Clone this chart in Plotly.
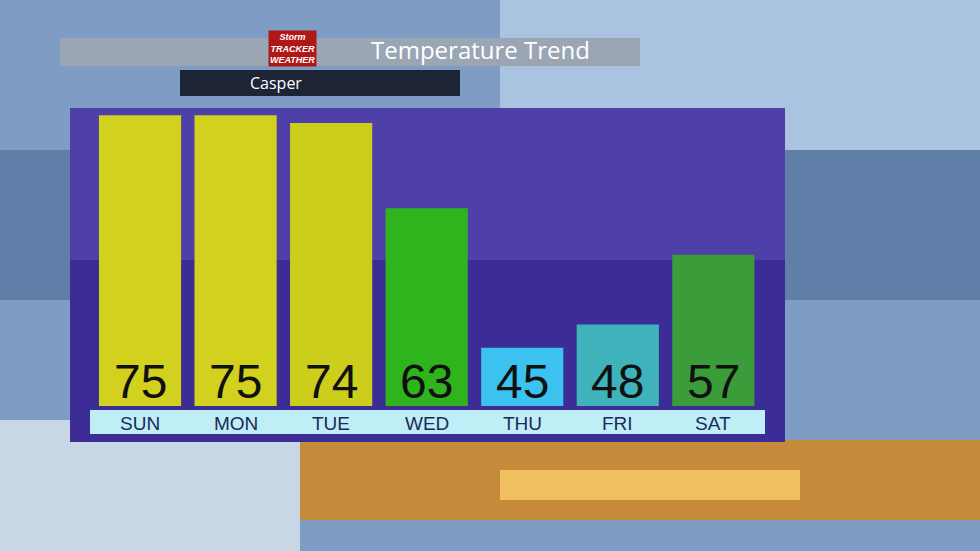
import plotly.graph_objects as go

days = ["SUN", "MON", "TUE", "WED", "THU", "FRI", "SAT"]
temps = [75, 75, 74, 63, 45, 48, 57]
bar_colors = ["#d2d21e", "#d2d21e", "#cdcd1c", "#2fb41e", "#3cc2ee", "#3fb2bc", "#3b9c3a"]
base = 37.5

L, R, T, B = 70, 785, 108, 406


def px(x):
    return (x - L) / (R - L)


def py(y):
    return (B - y) / (B - T)


def rect(x0, y0, x1, y1, color, layer="below"):
    return dict(type="rect", xref="paper", yref="paper", x0=px(x0), x1=px(x1),
                y0=py(y1), y1=py(y0), fillcolor=color, layer=layer, line=dict(width=0))


xs = list(range(len(days)))
fig = go.Figure(go.Bar(
    x=xs, y=[t - base for t in temps], base=base, width=0.86,
    marker=dict(color=bar_colors, line=dict(width=0)),
    hoverinfo="skip",
))

shapes = [
    # sky background pieces
    rect(0, 0, 980, 551, "#7f9cc4"),
    rect(500, 0, 980, 300, "#a9c3e0"),
    rect(0, 150, 980, 300, "#5f7fa8"),
    rect(300, 440, 980, 520, "#c58a3a"),
    rect(500, 470, 800, 500, "#f0c060"),
    rect(0, 420, 300, 551, "#c8d6e6"),
    # header
    rect(60, 38, 640, 66, "#9aa6b4"),
    rect(180, 70, 460, 96, "#1c2436"),
    # purple panel
    rect(70, 108, 785, 442, "#3b2c96"),
    rect(70, 108, 785, 260, "#4f3fa8"),
    # day strip
    rect(90, 410, 765, 434, "#bfeef6"),
]

annotations = [
    dict(text="Temperature Trend", x=px(480), y=py(50), xref="paper", yref="paper",
         yanchor="middle", showarrow=False,
         font=dict(family="Open Sans", size=24, color="white")),
    dict(text="Casper", x=px(248), y=py(83), xref="paper", yref="paper",
         yanchor="middle", showarrow=False,
         font=dict(family="Open Sans", size=16, color="white")),
    dict(text="<i><b>Storm<br>TRACKER<br>WEATHER</b></i>", x=px(268), y=py(48),
         xref="paper", yref="paper", yanchor="middle", showarrow=False,
         font=dict(family="Liberation Sans", size=9, color="#ffffff"),
         bgcolor="#b01818"),
]
for x, d, t in zip(xs, days, temps):
    annotations.append(dict(text=d, x=x, y=py(423), xref="x", yref="paper",
                            yanchor="middle", showarrow=False,
                            font=dict(family="Liberation Sans", size=19, color="#1a2a5a")))
    annotations.append(dict(text=str(t), x=x, y=py(381), xref="x", yref="paper",
                            yanchor="middle", showarrow=False,
                            font=dict(family="Liberation Sans", size=48, color="#111111")))

fig.update_layout(
    width=980, height=551,
    margin=dict(l=L, r=980 - R, t=T, b=551 - B),
    paper_bgcolor="#7f9cc4",
    plot_bgcolor="rgba(0,0,0,0)",
    shapes=shapes,
    annotations=annotations,
    showlegend=False,
    xaxis=dict(range=[-0.733, 6.75], visible=False, fixedrange=True),
    yaxis=dict(range=[base, 75.95], visible=False, fixedrange=True),
)

fig.write_html("out.html", config={"displayModeBar": False},
               post_script="document.body.style.margin='0';")
